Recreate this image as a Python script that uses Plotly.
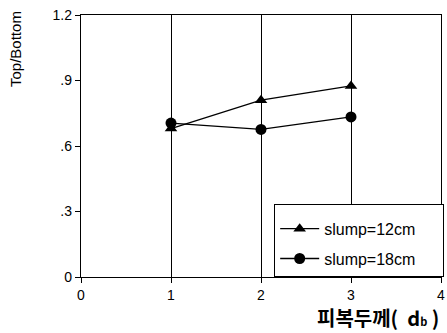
import plotly.graph_objects as go

x_vals = [1, 2, 3]
slump12 = [0.68, 0.81, 0.875]
slump18 = [0.705, 0.676, 0.733]
series_names = ["slump=12cm", "slump=18cm"]
x_ticks = [0, 1, 2, 3, 4]
x_ticklabels = ["0", "1", "2", "3", "4"]
y_ticks = [0, 0.3, 0.6, 0.9, 1.2]
y_ticklabels = ["0", ".3", ".6", ".9", "1.2"]

FONT = "Liberation Sans, Arial, sans-serif"
PAD = "\u00a0" * 5

fig = go.Figure()
fig.add_trace(go.Scatter(x=x_vals, y=slump12, mode="lines+markers", name=series_names[0] + PAD,
                         line=dict(color="black", width=1.3),
                         marker=dict(symbol="triangle-up", size=11, color="black"),
                         legendgroup="a"))
fig.add_trace(go.Scatter(x=x_vals, y=slump18, mode="lines+markers", name=series_names[1] + PAD,
                         line=dict(color="black", width=1.3),
                         marker=dict(symbol="circle", size=11, color="black"),
                         legendgroup="b"))

axis_common = dict(showline=True, linecolor="black", linewidth=1.3, mirror=True,
                   ticks="outside", ticklen=5, tickcolor="black", tickwidth=1,
                   zeroline=False, tickfont=dict(family=FONT, size=14, color="black"))

fig.update_layout(
    width=447, height=333,
    margin=dict(l=81, r=6, t=15, b=56, autoexpand=False),
    paper_bgcolor="white", plot_bgcolor="white",
    showlegend=True,
    xaxis=dict(range=[0, 4], tickvals=x_ticks, ticktext=x_ticklabels,
               showgrid=True, gridcolor="black", gridwidth=1, **axis_common),
    yaxis=dict(range=[0, 1.2], tickvals=y_ticks, ticktext=y_ticklabels,
               showgrid=False, **axis_common),
    xaxis2=dict(range=[0, 4], tickvals=x_ticks, overlaying="x", anchor="y", side="bottom",
                ticks="inside", ticklen=5, tickcolor="black", showticklabels=False,
                showgrid=False, showline=False, zeroline=False),
    yaxis2=dict(range=[0, 1.2], tickvals=y_ticks, overlaying="y", anchor="x", side="left",
                ticks="inside", ticklen=5, tickcolor="black", showticklabels=False,
                showgrid=False, showline=False, zeroline=False),
    legend=dict(x=1.008, xanchor="right", y=0, yanchor="bottom",
                bgcolor="white", bordercolor="black", borderwidth=1.3,
                font=dict(family=FONT, size=16, color="black"),
                title=dict(text="\u00a0", font=dict(size=5)),
                traceorder="grouped", tracegroupgap=6, itemwidth=39),
    annotations=[
        dict(text="Top/Bottom", xref="paper", yref="paper", x=0, y=1, xshift=-66, yshift=6,
             xanchor="center", yanchor="top", textangle=-90, showarrow=False,
             font=dict(family=FONT, size=15, color="black")),
        dict(text="피복두께(\u00a0 d<span style='font-size:11px'>b</span> )",
             xref="paper", yref="paper", x=1, y=0,
             xanchor="right", yanchor="middle", yshift=-40, showarrow=False,
             font=dict(family="Noto Sans CJK KR", size=20, color="black", weight="bold")),
    ],
)

fig.write_html("out.html", config={"displayModeBar": False},
               post_script="document.body.style.margin='0';document.body.style.overflow='hidden';")
